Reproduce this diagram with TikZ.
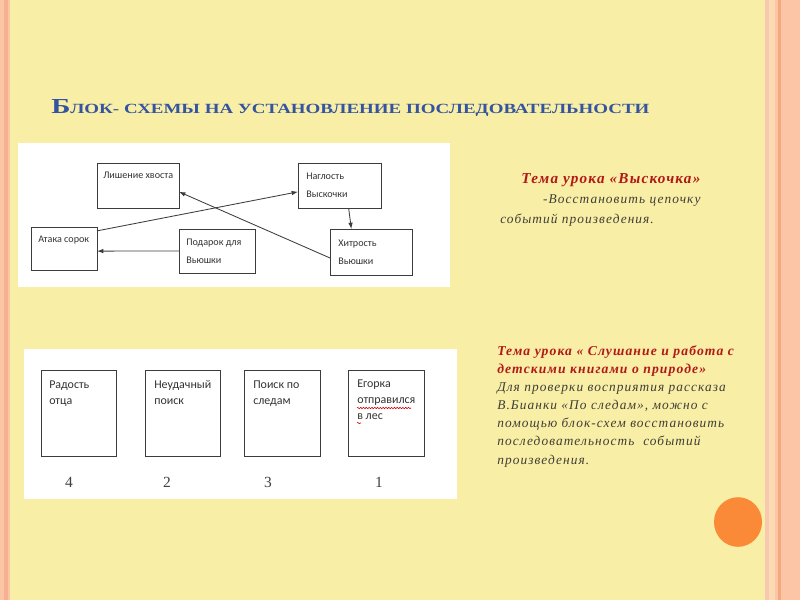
\documentclass[tikz,border=0pt]{standalone}
\usepackage{fontspec}
\usepackage{graphicx}
\setmainfont{Liberation Serif}
\newfontfamily\boxfont{Carlito}
\newfontfamily\notefont[LetterSpace=8]{Liberation Serif}
\usetikzlibrary{arrows.meta,positioning,calc,decorations.pathmorphing}

\definecolor{slideyellow}{RGB}{248,238,166}
\definecolor{edgepeach}{RGB}{252,198,166}
\definecolor{edgesalmon}{RGB}{246,176,146}
\definecolor{edgelight}{RGB}{252,218,180}
\definecolor{edgedark}{RGB}{244,168,128}
\definecolor{dotorange}{RGB}{250,138,56}
\definecolor{titleblue}{RGB}{52,84,160}
\definecolor{notered}{RGB}{178,24,24}
\definecolor{notegrey}{RGB}{62,62,54}
\definecolor{blockline}{RGB}{60,60,60}

\tikzset{
  block/.style={draw=blockline, line width=0.6pt, fill=white, anchor=north west,
    inner sep=0pt, outer sep=0pt},
  blocktext/.style={anchor=base west, align=left, inner sep=0pt, text=black!80,
    font=\boxfont\fontsize{7.2}{12.6}\selectfont},
  blocktextbig/.style={blocktext, font=\boxfont\fontsize{8.5}{11.2}\selectfont},
  link/.style={draw=blockline, line width=0.6pt, -{Latex[length=4.5pt,width=3.2pt]}},
  num/.style={anchor=base, inner sep=0pt, text=black!75, font=\fontsize{11}{11}\selectfont},
  note/.style={anchor=base west, align=left, inner sep=0pt, text=notegrey},
  squiggle/.style={draw=red!80!black, line width=0.4pt,
    decorate, decoration={snake, amplitude=0.5pt, segment length=2pt}},
}

\begin{document}
\begin{tikzpicture}[x=0.025cm,y=-0.025cm]
  \useasboundingbox (0,0) rectangle (800,600);
  % slide background
  \fill[slideyellow] (0,0) rectangle (800,600);
  \fill[edgepeach] (0,0) rectangle (10,600);
  \fill[edgesalmon] (4,0) rectangle (8,600);
  \fill[edgesalmon!70] (765,0) rectangle (769,600);
  \fill[edgelight] (769,0) rectangle (775,600);
  \fill[edgepeach] (775,0) rectangle (800,600);
  \fill[edgedark] (778,0) rectangle (781,600);
  \fill[dotorange] (738,522) ellipse [x radius=0.6cm, y radius=0.62cm];

  % title
  \node[anchor=base west, inner sep=0pt, text=titleblue] (title) at (51,113)
    {\resizebox{14.95cm}{0.35cm}{\bfseries\fontsize{16}{16}\selectfont Б\fontsize{10.5}{10.5}\selectfont ЛОК- СХЕМЫ НА УСТАНОВЛЕНИЕ ПОСЛЕДОВАТЕЛЬНОСТИ}};

  % first scheme (text nodes sit on the baseline of their last line)
  \fill[white] (18,143) rectangle (450,287);
  \node[block, minimum width=2.05cm, minimum height=1.125cm] (lish) at (97,163) {};
  \node[block, minimum width=2.075cm, minimum height=1.125cm] (nag) at (298,163) {};
  \node[block, minimum width=1.65cm, minimum height=1.075cm] (atk) at (31,227) {};
  \node[block, minimum width=1.9cm, minimum height=1.1cm] (pod) at (179,229) {};
  \node[block, minimum width=2.05cm, minimum height=1.15cm] (hit) at (330,229) {};
  \node[blocktext] (lishT) at ($(lish.north west)+(6,15)$) {Лишение хвоста};
  \node[blocktext] (nagT) at ($(nag.north west)+(8,34)$) {Наглость\\Выскочки};
  \node[blocktext] (atkT) at ($(atk.north west)+(7,15)$) {Атака сорок};
  \node[blocktext] (podT) at ($(pod.north west)+(7,34)$) {Подарок для\\Вьюшки};
  \node[blocktext] (hitT) at ($(hit.north west)+(8,35)$) {Хитрость\\Вьюшки};
  \draw[link] ($(atk.north east)!0.09!(atk.south east)$) -- ($(nag.north west)!0.64!(nag.south west)$);
  \draw[link] ($(hit.north west)!0.63!(hit.south west)$) -- ($(lish.north east)!0.64!(lish.south east)$);
  \draw[link] ($(nag.south west)!0.61!(nag.south east)$) -- ($(hit.north west)!0.26!(hit.north east)$);
  \draw[link] ($(pod.north west)!0.5!(pod.south west)$) -- ($(atk.north east)!0.56!(atk.south east)$);

  % second scheme
  \fill[white] (24,349) rectangle (457,499);
  \node[block, minimum width=1.875cm, minimum height=2.15cm] (rad) at (41,370) {};
  \node[block, minimum width=1.875cm, minimum height=2.15cm] (neud) at (145,370) {};
  \node[block, minimum width=1.9cm, minimum height=2.15cm] (poisk) at (244,370) {};
  \node[block, minimum width=1.9cm, minimum height=2.15cm] (egor) at (348,370) {};
  \node[blocktextbig] (radT) at ($(rad.north west)+(8,34)$) {Радость\\отца};
  \node[blocktextbig] (neudT) at ($(neud.north west)+(9,34)$) {Неудачный\\поиск};
  \node[blocktextbig] (poiskT) at ($(poisk.north west)+(9,34)$) {Поиск по\\следам};
  \node[blocktextbig] (egorT) at ($(egor.north west)+(9,49)$) {Егорка\\отправился\\в лес};
  \draw[squiggle] ($(egor.north west)+(9,38)$) -- ++(54,0);
  \draw[squiggle] ($(egor.north west)+(9,53)$) -- ++(4,0);
  \node[num] (n4) at (69,487) {4};
  \node[num] (n2) at (167,487) {2};
  \node[num] (n3) at (268,487) {3};
  \node[num] (n1) at (379,487) {1};

  % lesson notes
  \node[note, font=\notefont\itshape\fontsize{9.5}{14.2}\selectfont] (note1) at (500,223)
    {\hspace*{15pt}{\color{notered}\bfseries\fontsize{10.8}{14.2}\selectfont Тема урока «Выскочка»}\\
     \hspace*{30.5pt}-Восстановить цепочку\\
     событий произведения.};
  \node[note, font=\notefont\itshape\fontsize{9.5}{12.9}\selectfont] (note2) at (497,464)
    {{\color{notered}\bfseries\fontsize{9.7}{12.9}\selectfont Тема урока « Слушание и работа с}\\
     {\color{notered}\bfseries\fontsize{9.7}{12.9}\selectfont детскими книгами о природе»}\\
     Для проверки восприятия рассказа\\
     В.Бианки «По следам», можно с\\
     помощью блок-схем восстановить\\
     последовательность \ событий\\
     произведения.};
\end{tikzpicture}
\end{document}
